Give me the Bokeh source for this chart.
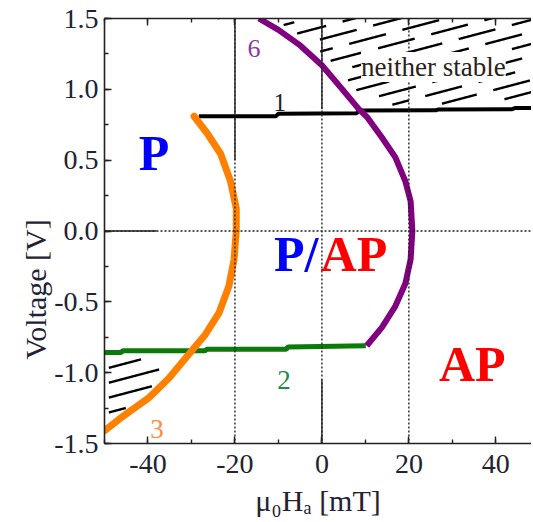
import numpy as np
from bokeh.plotting import figure
from bokeh.models import (Range1d, LinearAxis, SingleIntervalTicker,
                          PrintfTickFormatter, Span, Label, Title)
from bokeh.embed import file_html
from bokeh.resources import INLINE

# ---------------- data ----------------
# curve 1: upper switching line (black)
line1_x = [-28.3, -10.6, -10.0, 8.0, 8.6, 26.2, 26.8, 43.8, 44.4, 48.2]
line1_v = [0.81, 0.81, 0.827, 0.832, 0.85, 0.852, 0.858, 0.86, 0.868, 0.868]
# curve 2: lower switching line (green)
line2_x = [-50.0, -46.2, -45.8, -26.9, -26.5, -8.2, -7.8, 10.1]
line2_v = [-0.858, -0.858, -0.846, -0.846, -0.835, -0.835, -0.818, -0.81]
# curve 3: P stability boundary (orange)
curve3_x = [-29.4, -26.4, -23.3, -21.0, -19.7, -19.7, -20.2, -21.4, -23.7,
            -26.8, -30.6, -35.2, -39.9, -44.5, -46.7, -50.0]
curve3_v = [0.81, 0.69, 0.545, 0.35, 0.16, 0.0, -0.20, -0.39, -0.58,
            -0.73, -0.87, -1.04, -1.18, -1.28, -1.33, -1.41]
# curve 6: AP stability boundary (purple)
curve6_x = [-14.5, -10.0, -5.0, 0.0, 4.7, 8.5, 10.5, 13.8, 16.9, 19.2, 20.4,
            20.8, 20.4, 19.2, 16.9, 13.8, 10.3]
curve6_v = [1.50, 1.42, 1.31, 1.17, 1.00, 0.86, 0.80, 0.66, 0.52, 0.35, 0.21,
            0.0, -0.20, -0.37, -0.53, -0.68, -0.81]

x_ticks_major = 20
y_ticks_major = 0.5

# ---------------- figure ----------------
SERIF = "Liberation Serif"
p = figure(width=531, height=520, x_range=Range1d(-50, 48.2),
           y_range=Range1d(-1.5, 1.5), output_backend="svg",
           toolbar_location=None, x_axis_location=None, y_axis_location=None,
           min_border_left=104, min_border_right=0, min_border_top=18,
           min_border_bottom=77)
p.outline_line_color = None
p.xgrid.visible = False
p.ygrid.visible = False
p.background_fill_color = "white"
p.border_fill_color = "white"


def style_axis(ax, show_labels=True):
    ax.axis_line_color = "#222222"
    ax.axis_line_width = 1.6
    ax.major_tick_line_color = "#222222"
    ax.minor_tick_line_color = "#222222"
    ax.major_tick_line_width = 1.4
    ax.minor_tick_line_width = 1.4
    ax.major_tick_in = 7
    ax.major_tick_out = 0
    ax.minor_tick_in = 4
    ax.minor_tick_out = 0
    ax.major_label_text_font = SERIF
    ax.major_label_text_color = "#222233"
    ax.major_label_text_font_size = "28px"
    ax.axis_label_text_font = SERIF
    ax.axis_label_text_font_style = "normal"
    ax.axis_label_text_color = "#222233"
    if not show_labels:
        ax.major_label_text_font_size = "1px"
        ax.major_label_text_color = None
        ax.major_label_standoff = 0


xax = LinearAxis(ticker=SingleIntervalTicker(interval=x_ticks_major, num_minor_ticks=2),
                 formatter=PrintfTickFormatter(format="%d"))
style_axis(xax)
xax.major_label_standoff = 11
xax.axis_label = "\u03bc\u2080H\u2090 [mT]"
xax.axis_label_text_font_size = "30px"
xax.axis_label_standoff = 8
p.add_layout(xax, "below")

yax = LinearAxis(ticker=SingleIntervalTicker(interval=y_ticks_major, num_minor_ticks=2),
                 formatter=PrintfTickFormatter(format="%.1f"))
style_axis(yax)
yax.major_label_standoff = 6
p.add_layout(yax, "left")

tax = LinearAxis(ticker=SingleIntervalTicker(interval=x_ticks_major, num_minor_ticks=2))
style_axis(tax, show_labels=False)
p.add_layout(tax, "above")

# y axis title as a side title, shifted down to sit beside the lower tick labels
p.add_layout(Title(text="Voltage [V]", align="left", offset=84, standoff=0,
                   text_font=SERIF, text_font_size="30px",
                   text_font_style="normal", text_color="#222233"), "left")

# guide lines
for loc, dim in [(-20, "height"), (0, "height"), (20, "height"), (0, "width")]:
    p.add_layout(Span(location=loc, dimension=dim, line_color="#222222",
                      line_width=1.4, line_dash="2 2"))
guide_x0_top = [1.5, 0.86]
guide_x0_bot = [-1.05, -1.5]
p.line([0, 0], guide_x0_top, line_color="#222222", line_width=1.4)
p.line([0, 0], guide_x0_bot, line_color="#222222", line_width=1.4)
p.line([-20, -20], [1.5, 0.5], line_color="#222222", line_width=1.4)
p.line([-50, -38], [0, 0], line_color="#222222", line_width=1.4)

# ---------------- hatching ----------------
slope = 0.0081  # V per mT of the hatch strokes
xs_dense = np.arange(-50.0, 48.25, 0.1)


def runs(mask):
    out = []
    start = None
    for i, m in enumerate(mask):
        if m and start is None:
            start = i
        if (not m) and start is not None:
            out.append((start, i - 1))
            start = None
    if start is not None:
        out.append((start, len(mask) - 1))
    return out


c6v = np.array(curve6_v)
c6x = np.array(curve6_x)
up = c6v >= 0.8
up_order = np.argsort(c6v[up])
pv_up, px_up = c6v[up][up_order], c6x[up][up_order]

c3v = np.array(curve3_v)
c3x = np.array(curve3_x)
lo = c3v <= -0.5
lo_order = np.argsort(c3v[lo])
ov_lo, ox_lo = c3v[lo][lo_order], c3x[lo][lo_order]

L1 = np.interp(xs_dense, line1_x, line1_v)
L2 = np.interp(xs_dense, line2_x, line2_v)

# region "neither stable" (top right)
for k, c in enumerate(np.arange(0.42, 1.75, 0.085)):
    v = c + slope * xs_dense
    pb = np.interp(v, pv_up, px_up, left=30, right=-60)
    mask = (v > L1 + 0.04) & (xs_dense > pb + 3.0) & (v < 1.56)
    for a, b in runs(mask):
        if b - a < 5:
            continue
        p.line(xs_dense[a:b + 1], v[a:b + 1], line_color="black", line_width=2.4,
               line_dash="38 17", line_dash_offset=(k * 19) % 55)

# region bottom left
for k, v0 in enumerate(np.arange(-0.966, -1.45, -0.105)):
    v = v0 + slope * (xs_dense + 49.0)
    ob = np.interp(v, ov_lo, ox_lo, left=-60, right=0)
    mask = (v < L2 - 0.06) & (xs_dense < ob - 2.0) & (xs_dense > -49.0)
    for a, b in runs(mask):
        if b - a < 5:
            continue
        p.line(xs_dense[a:b + 1], v[a:b + 1], line_color="black", line_width=2.4,
               line_dash="52 400")

# ---------------- curves ----------------
p.line(line1_x, line1_v, line_color="black", line_width=4)
p.line(line2_x, line2_v, line_color="#0b7a0b", line_width=5)
p.line(curve3_x, curve3_v, line_color="#ff8000", line_width=7, line_cap="round")
p.line(curve6_x, curve6_v, line_color="#800080", line_width=6)

# ---------------- text ----------------
def lab(x, y, text, color, size, bold=False, align="left", bg=None):
    p.add_layout(Label(x=x, y=y, text=text, text_color=color, text_font=SERIF,
                       text_font_size=size, text_align=align,
                       text_baseline="alphabetic",
                       text_font_style="bold" if bold else "normal",
                       background_fill_color=bg))

lab(-42.1, 0.55, "P", "#0000ff", "50px", bold=True)
lab(-11.0, -0.16, "P/", "#0000ff", "50px", bold=True)
lab(-0.3, -0.16, "AP", "#ff0000", "50px", bold=True)
lab(26.9, -0.94, "AP", "#ff0000", "50px", bold=True)
lab(-9.7, 0.905, "1", "#222222", "25px", align="center")
lab(-8.7, -1.05, "2", "#1f8a4a", "27px", align="center")
lab(-37.9, -1.395, "3", "#ff8c40", "27px", align="center")
lab(-15.6, 1.29, "6", "#8a3a9a", "26px", align="center")
p.add_layout(Label(x=9.0, y=1.158, text="neither stable", text_color="#2a2218",
                   text_font=SERIF, text_font_size="27px",
                   text_baseline="alphabetic", background_fill_color="white",
                   background_fill_alpha=1.0))

open("out.html", "w").write(file_html(p, INLINE))
